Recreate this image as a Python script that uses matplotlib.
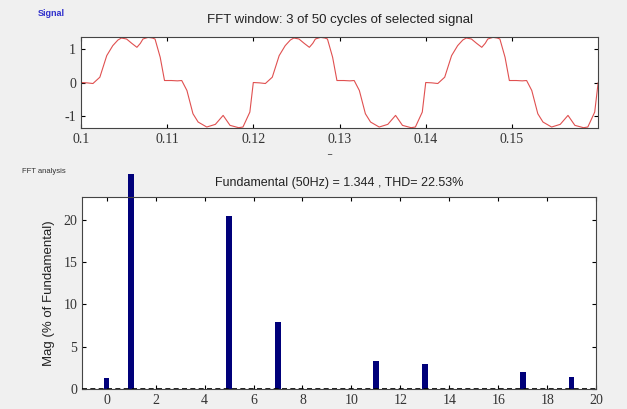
import numpy as np
import matplotlib.pyplot as plt
from matplotlib.patches import Rectangle

plt.rcParams["axes.unicode_minus"] = False

# one cycle of the displayed signal (time within cycle in s, value)
cycle_t = [0.0000, 0.0007, 0.0014, 0.0022, 0.0030, 0.0037, 0.0043, 0.0047,
           0.0053, 0.0059, 0.0065, 0.0069, 0.0072, 0.0078, 0.0083, 0.0086,
           0.0092, 0.0097, 0.0105, 0.0112, 0.0117, 0.0123, 0.0130, 0.0136,
           0.0146, 0.0156, 0.0165, 0.0173, 0.0183, 0.0188, 0.0196]
cycle_v = [0.00, -0.01, -0.03, 0.16, 0.81, 1.11, 1.28, 1.34,
           1.31, 1.18, 1.06, 1.18, 1.31, 1.36, 1.34, 1.31,
           0.76, 0.06, 0.06, 0.05, 0.06, -0.24, -0.94, -1.19,
           -1.34, -1.26, -0.99, -1.29, -1.36, -1.34, -0.89]
period = 0.02
n_cycles = 3
t_start = 0.1

# harmonic spectrum (% of fundamental)
harm = [0, 1, 5, 7, 11, 13, 17, 19]
mag = [1.25, 100, 20.5, 7.9, 3.3, 2.9, 2.0, 1.45]

title_top = "FFT window: 3 of 50 cycles of selected signal"
title_bot = "Fundamental (50Hz) = 1.344 , THD= 22.53%"

t = np.concatenate([t_start + k * period + np.array(cycle_t) for k in range(n_cycles)]
                   + [[t_start + n_cycles * period]])
v = np.concatenate([np.array(cycle_v)] * n_cycles + [[cycle_v[0]]])

fig = plt.figure(figsize=(6.27, 4.09), dpi=100, facecolor="#f0f0f0")
tick_font = {"family": "Liberation Serif", "size": 10}

ax1 = fig.add_axes([0.129, 0.687, 0.825, 0.2225])
ax1.plot(t, v, color="#e05050", lw=0.8)
ax1.set_xlim(0.1, 0.16)
ax1.set_ylim(-1.37, 1.37)
ax1.set_xticks([0.1, 0.11, 0.12, 0.13, 0.14, 0.15])
ax1.set_xticklabels(["0.1", "0.11", "0.12", "0.13", "0.14", "0.15"])
ax1.set_yticks([-1, 0, 1])
ax1.set_title(title_top, fontsize=9.5, family="Liberation Sans", pad=10, color="#222222")

ax2 = fig.add_axes([0.131, 0.049, 0.82, 0.469])
bars = ax2.bar(harm, mag, width=0.22, color="#00007a", zorder=2)
clip = Rectangle((0, 0), 1, 1.12, transform=ax2.transAxes, visible=False)
ax2.add_patch(clip)
for b in bars:
    b.set_clip_path(clip)
ax2.axhline(0, color="black", ls="--", lw=1.2, dashes=(3, 2), zorder=3)
ax2.set_xlim(-1, 20)
ax2.set_ylim(0, 22.7)
ax2.set_xticks(range(0, 21, 2))
ax2.set_yticks([0, 5, 10, 15, 20])
ax2.set_ylabel("Mag (% of Fundamental)", fontsize=9.5, family="Liberation Sans", labelpad=6,
               color="#222222")
ax2.set_title(title_bot, fontsize=9, family="Liberation Sans", pad=8, color="#222222")

for ax in (ax1, ax2):
    ax.tick_params(direction="in", length=3, top=True, right=True, width=0.8)
    for lab in ax.get_xticklabels() + ax.get_yticklabels():
        lab.set_fontfamily(tick_font["family"])
        lab.set_fontsize(tick_font["size"])
        lab.set_color("#333333")
    for s in ax.spines.values():
        s.set_linewidth(0.8)
        s.set_color("#444444")

fig.text(0.061, 0.961, "Signal", fontsize=6.5, color="#3030cc", family="Liberation Sans",
         weight="bold")
fig.text(0.035, 0.578, "FFT analysis", fontsize=5.5, color="#333333", family="Liberation Sans")
fig.text(0.525, 0.625, "_", fontsize=6, color="#333333", ha="center")

fig.savefig("out.png", dpi=100, facecolor=fig.get_facecolor())
